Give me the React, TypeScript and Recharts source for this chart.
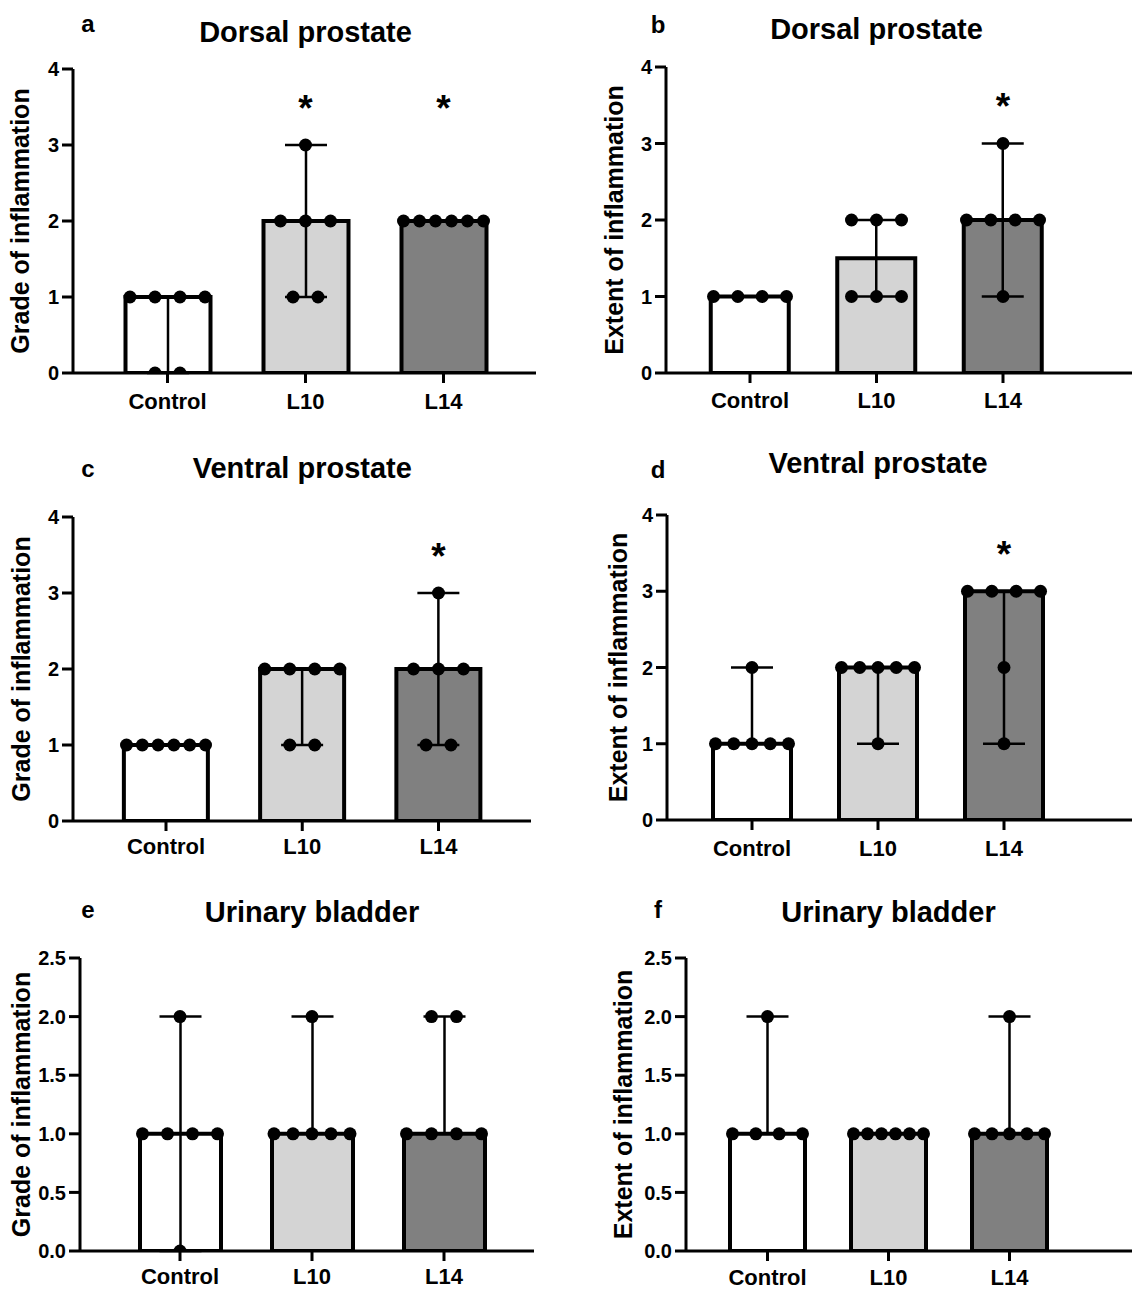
import React from 'react';
import { ComposedChart, Bar, Cell, ErrorBar, Scatter, XAxis, YAxis } from 'recharts';

// ---------- data ----------
const groups = ['Control', 'L10', 'L14'];
const groupFills = ['#ffffff', '#d4d4d4', '#808080'];

const yTicks4 = [0, 1, 2, 3, 4];
const yTicks25 = [0, 0.5, 1, 1.5, 2, 2.5];

// a: Dorsal prostate, grade
const aPoints = [[1, 1, 1, 1, 0, 0], [3, 2, 2, 2, 1, 1], [2, 2, 2, 2, 2, 2]];
const aMedians = [1, 2, 2];
const aSig = [false, true, true];
// b: Dorsal prostate, extent
const bPoints = [[1, 1, 1, 1], [2, 2, 2, 1, 1, 1], [3, 2, 2, 2, 2, 1]];
const bMedians = [1, 1.5, 2];
const bSig = [false, false, true];
// c: Ventral prostate, grade
const cPoints = [[1, 1, 1, 1, 1, 1], [2, 2, 2, 2, 1, 1], [3, 2, 2, 2, 1, 1]];
const cMedians = [1, 2, 2];
const cSig = [false, false, true];
// d: Ventral prostate, extent
const dPoints = [[2, 1, 1, 1, 1, 1], [2, 2, 2, 2, 2, 1], [3, 3, 3, 3, 2, 1]];
const dMedians = [1, 2, 3];
const dSig = [false, false, true];
// e: Urinary bladder, grade
const ePoints = [[2, 1, 1, 1, 1, 0], [2, 1, 1, 1, 1, 1], [2, 2, 1, 1, 1, 1]];
const eMedians = [1, 1, 1];
const eSig = [false, false, false];
// f: Urinary bladder, extent
const fPoints = [[2, 1, 1, 1, 1], [1, 1, 1, 1, 1, 1], [2, 1, 1, 1, 1, 1]];
const fMedians = [1, 1, 1];
const fSig = [false, false, false];

const STAR_Y = 3.58;

// ---------- layout ----------
const FONT = '"Liberation Sans", Arial, Helvetica, sans-serif';

type Cfg = {
  letter: string; title: string; ylabel: string;
  axisX: number; c0: number; c2: number; right: number; yTop: number; y0: number; bar: number;
  labelX: number; letterX: number; letterY: number; titleY: number; xGap: number;
};

const panels: { cfg: Cfg; points: number[][]; medians: number[]; sig: boolean[]; ticks: number[]; max: number; dec: number }[] = [
  { cfg: { letter: 'a', title: 'Dorsal prostate', ylabel: 'Grade of inflammation', axisX: 73, c0: 167.5, c2: 443.5, right: 536, yTop: 69, y0: 373, bar: 89, labelX: 29, letterX: 88, letterY: 32, titleY: 42, xGap: 20 }, points: aPoints, medians: aMedians, sig: aSig, ticks: yTicks4, max: 4, dec: 0 },
  { cfg: { letter: 'b', title: 'Dorsal prostate', ylabel: 'Extent of inflammation', axisX: 666, c0: 750, c2: 1003, right: 1136, yTop: 67, y0: 373, bar: 82, labelX: 623, letterX: 658, letterY: 33, titleY: 39, xGap: 19 }, points: bPoints, medians: bMedians, sig: bSig, ticks: yTicks4, max: 4, dec: 0 },
  { cfg: { letter: 'c', title: 'Ventral prostate', ylabel: 'Grade of inflammation', axisX: 73, c0: 166, c2: 438.5, right: 531, yTop: 517, y0: 821, bar: 88, labelX: 30, letterX: 88, letterY: 477, titleY: 478, xGap: 17 }, points: cPoints, medians: cMedians, sig: cSig, ticks: yTicks4, max: 4, dec: 0 },
  { cfg: { letter: 'd', title: 'Ventral prostate', ylabel: 'Extent of inflammation', axisX: 667, c0: 752, c2: 1004, right: 1136, yTop: 515, y0: 820, bar: 82, labelX: 627, letterX: 658, letterY: 478, titleY: 473, xGap: 20 }, points: dPoints, medians: dMedians, sig: dSig, ticks: yTicks4, max: 4, dec: 0 },
  { cfg: { letter: 'e', title: 'Urinary bladder', ylabel: 'Grade of inflammation', axisX: 80, c0: 180, c2: 444, right: 534, yTop: 958, y0: 1251, bar: 85, labelX: 30, letterX: 88, letterY: 918, titleY: 922, xGap: 17 }, points: ePoints, medians: eMedians, sig: eSig, ticks: yTicks25, max: 2.5, dec: 1 },
  { cfg: { letter: 'f', title: 'Urinary bladder', ylabel: 'Extent of inflammation', axisX: 686, c0: 767.5, c2: 1009.5, right: 1136, yTop: 958, y0: 1251, bar: 79, labelX: 632, letterX: 658, letterY: 918, titleY: 922, xGap: 18 }, points: fPoints, medians: fMedians, sig: fSig, ticks: yTicks25, max: 2.5, dec: 1 },
];

// spread tied values horizontally, like a scatter-dot plot
function layoutDots(points: number[][], barOuter: number) {
  const out: { x: number; y: number; dx: number }[] = [];
  points.forEach((vals, gi) => {
    const counts = new Map<number, number>();
    vals.forEach((v) => counts.set(v, (counts.get(v) || 0) + 1));
    counts.forEach((n, v) => {
      const spacing = n > 1 ? Math.min(25, (barOuter - 9) / (n - 1)) : 0;
      for (let k = 0; k < n; k++) out.push({ x: gi, y: v, dx: (k - (n - 1) / 2) * spacing });
    });
  });
  return out;
}

const DotShape = (p: any) => {
  if (p.cx == null || p.cy == null) return null;
  const dx = (p.payload && p.payload.dx) || 0;
  return <circle cx={p.cx + dx} cy={p.cy} r={6.5} fill="#000" />;
};

const StarShape = (p: any) => {
  if (p.cx == null || p.cy == null) return null;
  return (
    <text x={p.cx} y={p.cy + 20} textAnchor="middle" fontSize={37} fontWeight={700} fill="#000" fontFamily={FONT}>
      *
    </text>
  );
};

const YW = 60;
const MT = 10;
const XH = 40;
const X_TICK = 10;

function Panel({ cfg, points, medians, sig, ticks, max, dec }: any) {
  const band = (cfg.c2 - cfg.c0) / 2;
  const padL = cfg.c0 - band / 2 - cfg.axisX;
  const padR = cfg.right - (cfg.c2 + band / 2);
  const left = cfg.axisX - YW;
  const top = cfg.yTop - MT;
  const width = cfg.right - left;
  const height = cfg.y0 - cfg.yTop + MT + XH;

  const barData = groups.map((g, i) => {
    const v = points[i] as number[];
    const lo = Math.min(...v);
    const hi = Math.max(...v);
    return { group: g, median: medians[i], err: [medians[i] - lo, hi - medians[i]] };
  });
  const dots = layoutDots(points, cfg.bar);
  const stars = (sig as boolean[]).map((s, i) => (s ? { x: i, y: STAR_Y } : null)).filter(Boolean) as any[];

  const axisStyle = { stroke: '#000', strokeWidth: 3 };

  return (
    <div style={{ position: 'absolute', left, top }}>
      <ComposedChart width={width} height={height} data={barData} margin={{ top: MT, right: 0, bottom: 0, left: 0 }}>
        <XAxis
          xAxisId="cat"
          dataKey="group"
          type="category"
          padding={{ left: padL, right: padR }}
          height={XH}
          tickSize={X_TICK}
          tickMargin={cfg.xGap - X_TICK}
          interval={0}
          axisLine={axisStyle}
          tickLine={axisStyle}
          tick={{ fill: '#000', fontSize: 22, fontWeight: 700, fontFamily: FONT }}
        />
        <XAxis xAxisId="num" dataKey="x" type="number" domain={[-0.5, 2.5]} padding={{ left: padL, right: padR }} hide />
        <YAxis
          width={YW}
          domain={[0, max]}
          ticks={ticks}
          interval={0}
          allowDataOverflow
          tickSize={11}
          tickMargin={3}
          axisLine={axisStyle}
          tickLine={axisStyle}
          tickFormatter={(v: number) => v.toFixed(dec)}
          tick={{ fill: '#000', fontSize: 20, fontWeight: 700, fontFamily: FONT }}
        />
        <Bar xAxisId="cat" dataKey="median" barSize={cfg.bar - 4} stroke="#000" strokeWidth={4} isAnimationActive={false}>
          {barData.map((d, i) => (
            <Cell key={d.group} fill={groupFills[i]} stroke="#000" strokeWidth={4} />
          ))}
          <ErrorBar dataKey="err" width={21} stroke="#000" strokeWidth={2.5} direction="y" isAnimationActive={false} />
        </Bar>
        <Scatter xAxisId="num" data={dots} dataKey="y" shape={DotShape} isAnimationActive={false} />
        <Scatter xAxisId="num" data={stars} dataKey="y" shape={StarShape} isAnimationActive={false} />
      </ComposedChart>
    </div>
  );
}

export default function App() {
  return (
    <div style={{ position: 'absolute', left: 0, top: 0, width: 1132, height: 1291, overflow: 'hidden', background: '#fff', fontFamily: FONT }}>
      {panels.map((p) => (
        <Panel key={p.cfg.letter} {...p} />
      ))}
      <svg width={1132} height={1291} style={{ position: 'absolute', left: 0, top: 0, pointerEvents: 'none' }}>
        {panels.map((p) => {
          const c = p.cfg;
          const midX = (c.c0 + c.c2) / 2;
          const midY = (c.yTop + c.y0) / 2;
          return (
            <g key={c.letter} fontFamily={FONT} fontWeight={700} fill="#000">
              <text x={c.letterX} y={c.letterY} textAnchor="middle" fontSize={24}>{c.letter}</text>
              <text x={midX} y={c.titleY} textAnchor="middle" fontSize={29}>{c.title}</text>
              <text x={c.labelX} y={midY} textAnchor="middle" fontSize={25} transform={`rotate(-90 ${c.labelX} ${midY})`}>{c.ylabel}</text>
            </g>
          );
        })}
      </svg>
    </div>
  );
}
